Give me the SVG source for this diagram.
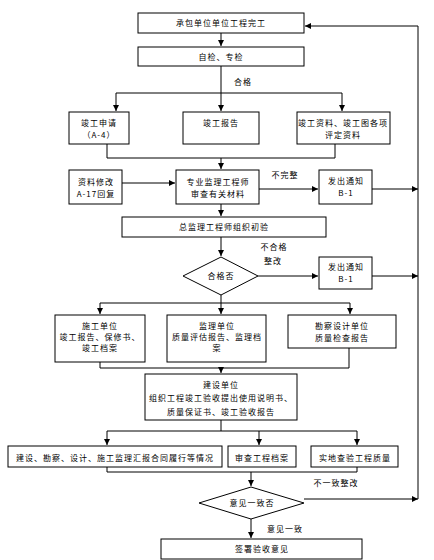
<svg xmlns="http://www.w3.org/2000/svg" width="434" height="560" viewBox="0 0 434 560">
<defs>
<marker id="ah" viewBox="0 0 10 10" refX="10" refY="5" markerWidth="6" markerHeight="6" markerUnits="userSpaceOnUse" orient="auto">
<path d="M0,0 L10,5 L0,10 z" fill="#000"/>
</marker>
</defs>
<style>
rect.b{fill:#fff;stroke:#000;stroke-width:1}
polygon.d{fill:#fff;stroke:#000;stroke-width:1}
.c path{fill:none;stroke:#000;stroke-width:1}
.c path.a{marker-end:url(#ah)}
text{font-family:"Noto Sans CJK SC","Liberation Serif",sans-serif;font-size:8px;letter-spacing:1px;fill:#000;text-anchor:middle}
</style>
<rect width="434" height="560" fill="#fff"/>
<g class="c" id="connectors">
<path class="a" d="M221,33 V46"/>
<path d="M221,66 V93 M116,93 H342"/>
<path class="a" d="M116,93 V111"/>
<path class="a" d="M221,93 V111"/>
<path class="a" d="M342,93 V111"/>
<path d="M107,144 V158 H335 V144"/>
<path class="a" d="M221,158 V169"/>
<path class="a" d="M122,183 H175"/>
<path class="a" d="M259,189 H318"/>
<path class="a" d="M372,189 H418"/>
<path class="a" d="M221,204 V216"/>
<path class="a" d="M221,237 V256"/>
<path class="a" d="M258,276 H318"/>
<path class="a" d="M372,276 H418"/>
<path d="M221,295 V303 M100,303 H350"/>
<path class="a" d="M100,303 V314"/>
<path class="a" d="M221,303 V314"/>
<path class="a" d="M350,303 V314"/>
<path d="M100,362 V368 H349 V348"/>
<path class="a" d="M221,368 V373"/>
<path d="M221,420 V431 M107,431 H357"/>
<path class="a" d="M107,431 V445"/>
<path class="a" d="M259,431 V445"/>
<path class="a" d="M357,431 V445"/>
<path d="M107,467 V472 H357 V467"/>
<path class="a" d="M251,472 V486"/>
<path class="a" d="M304,499 H418"/>
<path d="M418,499 V26"/>
<path class="a" d="M418,26 H305"/>
<path class="a" d="M251,519 V538"/>
</g>
<g id="n1"><rect class="b" x="138" y="13" width="166" height="20"/><text x="221" y="26">承包单位单位工程完工</text></g>
<g id="n2"><rect class="b" x="138" y="47" width="166" height="19"/><text x="221" y="60">自检、专检</text></g>
<g id="l1"><text x="243" y="85">合格</text></g>
<g id="n3"><rect class="b" x="69" y="112" width="60" height="32"/><text x="99" y="126">竣工申请</text><text x="99" y="138">（A-4）</text></g>
<g id="n4"><rect class="b" x="183" y="112" width="76" height="32"/><text x="221" y="126">竣工报告</text></g>
<g id="n5"><rect class="b" x="297" y="112" width="93" height="32"/><text x="343" y="126">竣工资料、竣工图各项</text><text x="343" y="138">评定资料</text></g>
<g id="n6"><rect class="b" x="69" y="170" width="53" height="34"/><text x="96" y="185">资料修改</text><text x="96" y="197">A-17回复</text></g>
<g id="n7"><rect class="b" x="176" y="170" width="83" height="34"/><text x="218" y="185">专业监理工程师</text><text x="218" y="197">审查有关材料</text></g>
<g id="l2"><text x="285" y="178">不完整</text></g>
<g id="n8"><rect class="b" x="319" y="170" width="53" height="34"/><text x="346" y="184">发出通知</text><text x="346" y="196">B-1</text></g>
<g id="n9"><rect class="b" x="122" y="217" width="204" height="20"/><text x="224" y="230">总监理工程师组织初验</text></g>
<g id="l3"><text x="274" y="250">不合格</text><text x="273" y="264">整改</text></g>
<g id="n10"><polygon class="d" points="221,257 258,276 221,295 183,276"/><text x="221" y="279">合格否</text></g>
<g id="n11"><rect class="b" x="319" y="257" width="53" height="32"/><text x="346" y="270">发出通知</text><text x="346" y="282">B-1</text></g>
<g id="n12"><rect class="b" x="55" y="315" width="90" height="47"/><text x="100" y="329">施工单位</text><text x="100" y="340">竣工报告、保修书、</text><text x="100" y="351">竣工档案</text></g>
<g id="n13"><rect class="b" x="167" y="315" width="99" height="47"/><text x="217" y="329">监理单位</text><text x="217" y="340">质量评估报告、监理档</text><text x="217" y="351">案</text></g>
<g id="n14"><rect class="b" x="288" y="315" width="108" height="33"/><text x="342" y="329">勘察设计单位</text><text x="342" y="341">质量检查报告</text></g>
<g id="n15"><rect class="b" x="145" y="374" width="152" height="46"/><text x="221" y="388">建设单位</text><text x="221" y="401">组织工程竣工验收提出使用说明书、</text><text x="221" y="415">质量保证书、竣工验收报告</text></g>
<g id="n16"><rect class="b" x="8" y="446" width="214" height="21"/><text x="115" y="461">建设、勘察、设计、施工监理汇报合同履行等情况</text></g>
<g id="n17"><rect class="b" x="228" y="446" width="68" height="21"/><text x="262" y="461">审查工程档案</text></g>
<g id="n18"><rect class="b" x="311" y="446" width="87" height="21"/><text x="355" y="461">实地查验工程质量</text></g>
<g id="l4"><text x="336" y="486">不一致整改</text></g>
<g id="n19"><polygon class="d" points="251,487 304,503 251,519 199,503"/><text x="252" y="506">意见一致否</text></g>
<g id="l5"><text x="285" y="532">意见一致</text></g>
<g id="n20"><rect class="b" x="161" y="539" width="201" height="20"/><text x="262" y="552">签署验收意见</text></g>
</svg>
